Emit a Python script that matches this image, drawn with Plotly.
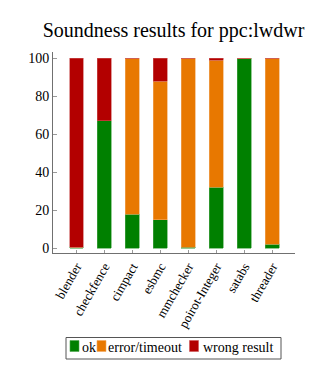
import plotly.graph_objects as go

tools = ["blender", "checkfence", "cimpact", "esbmc", "mmchecker",
         "poirot-Integer", "satabs", "threader"]
ok = [0.5, 67, 18, 15, 0.5, 32, 100, 2]
error_timeout = [0, 0, 82, 73, 99.5, 67, 0, 98]
wrong_result = [99.5, 33, 0, 12, 0, 1, 0, 0]

series = [
    ("ok", ok, "#008000", "#4da64d"),
    ("error/timeout", error_timeout, "#e87800", "#f0a860"),
    ("wrong result", wrong_result, "#b30000", "#cc5555"),
]

FONT = "Liberation Serif"
W, H = 329, 379
L, R, T, B = 53, 34, 52, 126
PW, PH = W - L - R, H - T - B
Y_RANGE = [-2.5, 103.3]
Y_TICKS = [0, 20, 40, 60, 80, 100]


def px(x):
    return (x - L) / PW


def py(y):
    return (H - B - y) / PH


fig = go.Figure()
for name, vals, fill, edge in series:
    fig.add_trace(go.Bar(
        name=name, x=list(range(len(tools))), y=vals,
        width=0.5, marker=dict(color=fill, line=dict(color=edge, width=0.6)),
        showlegend=False,
    ))

# legend box drawn with shapes and annotations
shapes = [dict(type="rect", xref="paper", yref="paper",
               x0=px(66), x1=px(281), y0=py(359), y1=py(337.5),
               line=dict(color="#555555", width=1), fillcolor="white")]
annotations = []
legend_x = [(70, 80.5), (97, 107), (189.5, 202)]
for (name, _, fill, edge), (sx, tx) in zip(series, legend_x):
    shapes.append(dict(type="rect", xref="paper", yref="paper",
                       x0=px(sx), x1=px(sx + 9), y0=py(351.5), y1=py(340.5),
                       line=dict(color=edge, width=0.6), fillcolor=fill))
    annotations.append(dict(text=name, xref="paper", yref="paper",
                            x=px(tx), y=py(347.5), xanchor="left", yanchor="middle",
                            showarrow=False, borderpad=0,
                            font=dict(family=FONT, size=14, color="black")))

fig.update_layout(
    barmode="stack",
    width=W, height=H,
    margin=dict(l=L, r=R, t=T, b=B),
    paper_bgcolor="white", plot_bgcolor="white",
    font=dict(family=FONT, size=13, color="black"),
    title=dict(text="Soundness results for ppc:lwdwr", x=173.5 / W, xanchor="center",
               y=1 - 30 / H, yanchor="middle",
               font=dict(family=FONT, size=20, color="black")),
    showlegend=False,
    shapes=shapes,
    annotations=annotations,
    yaxis=dict(range=Y_RANGE, tickvals=Y_TICKS, showgrid=False, zeroline=False,
               showline=True, linecolor="#707070", linewidth=1, ticks="inside",
               ticklen=4, tickcolor="#999999", automargin=False,
               tickfont=dict(family=FONT, size=14)),
    yaxis2=dict(overlaying="y", side="right", range=Y_RANGE, tickvals=Y_TICKS,
                showticklabels=False, showgrid=False, zeroline=False, showline=True,
                linecolor="#bbbbbb", linewidth=1.5, ticks="inside", ticklen=4,
                tickcolor="#bbbbbb"),
    xaxis=dict(range=[-0.84, 7.81], tickmode="array",
               tickvals=list(range(len(tools))), ticktext=tools, tickangle=-60,
               showgrid=False, zeroline=False, showline=True, linecolor="#707070",
               linewidth=1, ticks="inside", ticklen=3, tickcolor="#999999",
               automargin=False, tickfont=dict(family=FONT, size=13)),
)

fig.write_html("out.html")
